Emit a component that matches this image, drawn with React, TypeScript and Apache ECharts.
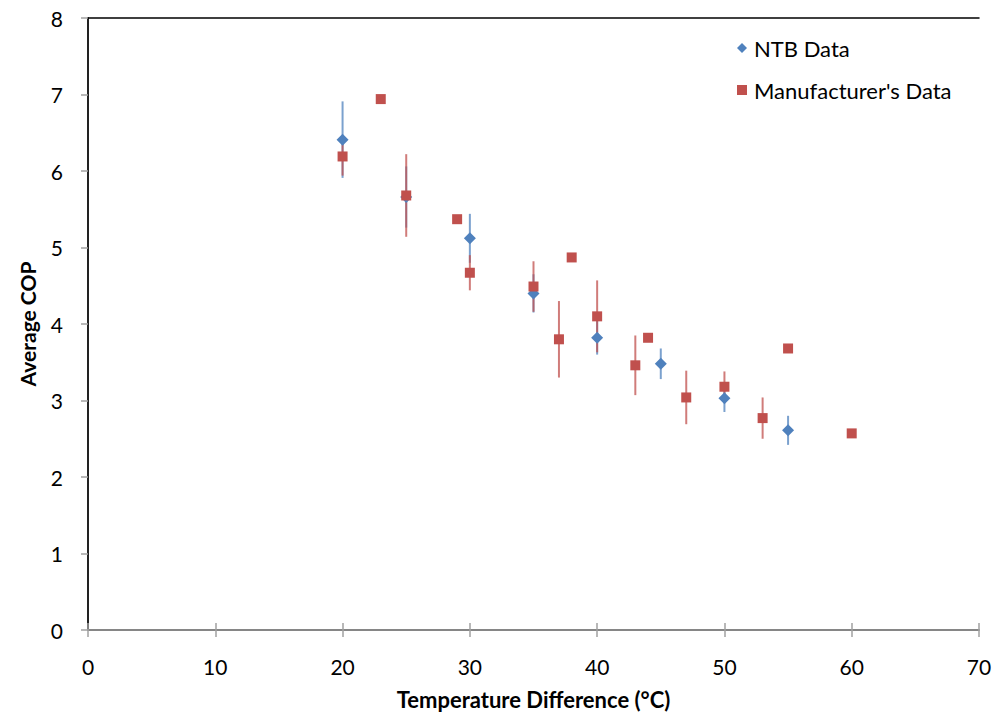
import React, { useEffect, useRef } from "react";
import * as echarts from "echarts";

const xTicks = [0, 10, 20, 30, 40, 50, 60, 70];

const ntbX = [20, 25, 30, 35, 40, 45, 50, 55];
const ntbY = [6.41, 5.66, 5.12, 4.40, 3.82, 3.48, 3.03, 2.61];
const ntbErr = [0.5, 0.4, 0.32, 0.25, 0.22, 0.2, 0.18, 0.19];

const mfrX = [20, 23, 25, 29, 30, 35, 37, 38, 40, 43, 44, 47, 50, 53, 55, 60];
const mfrY = [6.19, 6.94, 5.68, 5.37, 4.67, 4.49, 3.80, 4.87, 4.10, 3.46, 3.82, 3.04, 3.18, 2.77, 3.68, 2.57];
const mfrErr = [0.25, 0, 0.54, 0, 0.23, 0.33, 0.5, 0, 0.47, 0.39, 0, 0.35, 0.2, 0.27, 0, 0];

const BLUE = "#4F81BD";
const RED = "#C0504D";
const FONT = "Lato";

function errSeries(xs: number[], ys: number[], es: number[], color: string) {
  return {
    type: "custom",
    silent: true,
    z: 2,
    data: xs.map((x, i) => [x, ys[i], es[i]]),
    renderItem: (params: any, api: any) => {
      const x = api.value(0);
      const y = api.value(1);
      const e = api.value(2);
      if (!e) return null;
      const p1 = api.coord([x, y + e]);
      const p2 = api.coord([x, y - e]);
      return {
        type: "line",
        shape: { x1: p1[0], y1: p1[1], x2: p2[0], y2: p2[1] },
        style: { stroke: color, lineWidth: 2, opacity: 0.75 },
      };
    },
  };
}

export default function App() {
  const ref = useRef<HTMLDivElement>(null);
  useEffect(() => {
    if (!ref.current) return;
    const chart = echarts.init(ref.current, null, { renderer: "svg" });
    const axisLabel = { fontFamily: FONT, fontSize: 21, color: "#000" };
    chart.setOption({
      animation: false,
      backgroundColor: "#fff",
      textStyle: { fontFamily: FONT },
      grid: { left: 88, top: 18, width: 891, height: 613 },
      legend: {
        orient: "vertical",
        left: 732,
        top: 32,
        itemWidth: 10,
        itemHeight: 10,
        itemGap: 20,
        textStyle: { fontFamily: FONT, fontSize: 22, color: "#000", padding: [0, 0, 0, 2] },
        data: [
          { name: "NTB Data", icon: "diamond" },
          { name: "Manufacturer's Data", icon: "rect" },
        ],
      },
      xAxis: [
        {
          type: "value",
          min: 0,
          max: 70,
          interval: 10,
          position: "bottom",
          name: "Temperature Difference (°C)",
          nameLocation: "middle",
          nameGap: 58,
          nameTextStyle: { fontFamily: FONT, fontSize: 22, fontWeight: "bold", color: "#000" },
          axisLine: { show: true, lineStyle: { color: "#868686", width: 2 } },
          axisTick: { show: true, length: 7, lineStyle: { color: "#a0a0a0", width: 1.5 } },
          axisLabel: { ...axisLabel, margin: 26, formatter: (v: number) => (xTicks.includes(v) ? String(v) : "") },
          splitLine: { show: false },
        },
        {
          type: "value",
          min: 0,
          max: 70,
          interval: 10,
          position: "bottom",
          axisLine: { show: false },
          axisTick: { show: true, inside: true, length: 7, lineStyle: { color: "#a0a0a0", width: 1.5 } },
          axisLabel: { show: false },
          splitLine: { show: false },
        },
        {
          type: "value",
          min: 0,
          max: 70,
          position: "top",
          axisLine: { show: true, lineStyle: { color: "#000", width: 1.5 } },
          axisTick: { show: false },
          axisLabel: { show: false },
          splitLine: { show: false },
        },
      ],
      yAxis: [
        {
          type: "value",
          min: 0,
          max: 8,
          interval: 1,
          position: "left",
          name: "Average COP",
          nameLocation: "middle",
          nameGap: 50,
          nameTextStyle: { fontFamily: FONT, fontSize: 21, fontWeight: "bold", color: "#000" },
          axisLine: { show: true, lineStyle: { color: "#868686", width: 2 } },
          axisTick: { show: true, length: 7, lineStyle: { color: "#a0a0a0", width: 1.5 } },
          axisLabel: { ...axisLabel, margin: 25 },
          splitLine: { show: false },
        },
        {
          type: "value",
          min: 0,
          max: 8,
          position: "right",
          axisLine: { show: true, lineStyle: { color: "#000", width: 1.5 } },
          axisTick: { show: false },
          axisLabel: { show: false },
          splitLine: { show: false },
        },
      ],
      series: [
        { ...errSeries(ntbX, ntbY, ntbErr, BLUE), name: "ntbErr" },
        { ...errSeries(mfrX, mfrY, mfrErr, RED), name: "mfrErr" },
        {
          name: "NTB Data",
          type: "scatter",
          z: 3,
          symbol: "diamond",
          symbolSize: 12,
          itemStyle: { color: BLUE, opacity: 1 },
          data: ntbX.map((x, i) => [x, ntbY[i]]),
        },
        {
          name: "Manufacturer's Data",
          type: "scatter",
          z: 4,
          symbol: "rect",
          symbolSize: 10,
          itemStyle: { color: RED, opacity: 1 },
          data: mfrX.map((x, i) => [x, mfrY[i]]),
        },
      ],
    });
    return () => chart.dispose();
  }, []);
  return (
    <div
      ref={ref}
      style={{ position: "absolute", left: 0, top: 0, width: 995, height: 715 }}
    />
  );
}
